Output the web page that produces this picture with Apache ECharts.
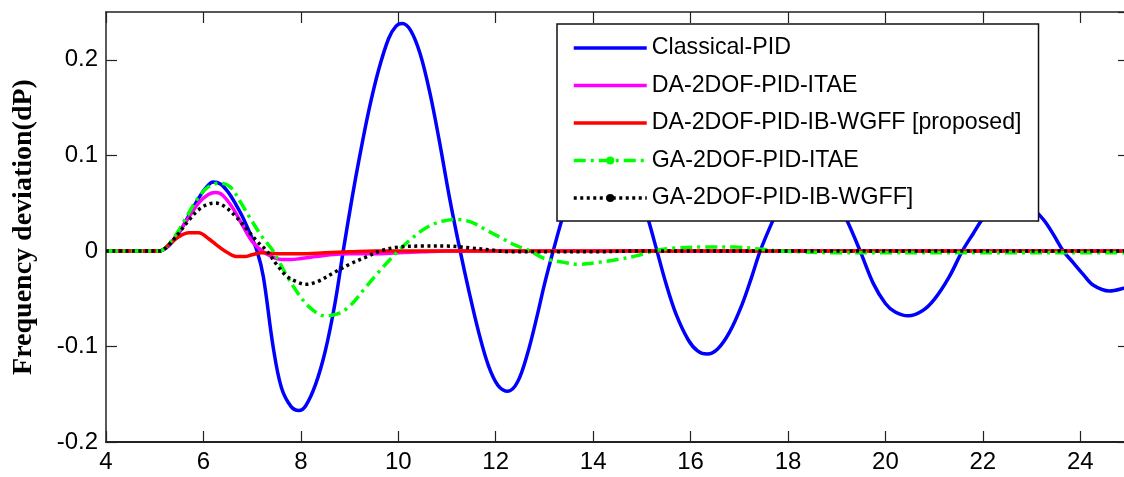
<!DOCTYPE html>
<html>
<head>
<meta charset="utf-8">
<script src="https://cdn.jsdelivr.net/npm/echarts@6/dist/echarts.min.js"></script>
<style>
  html, body { margin: 0; padding: 0; background: #fff; }
  #chart { width: 1124px; height: 477px; }
</style>
</head>
<body>
<div id="chart"></div>
<script>
// Frequency deviation responses, [time, dP]
const classicalPID = [
  [4, 0], [5.1, 0], [5.3, 0.006], [5.5, 0.019], [5.7, 0.037], [5.9, 0.055], [6.05, 0.066],
  [6.2, 0.072], [6.35, 0.070], [6.5, 0.062], [6.65, 0.050], [6.8, 0.036], [6.95, 0.019],
  [7.1, 0], [7.23, -0.027], [7.43, -0.100], [7.6, -0.143], [7.8, -0.163], [7.96, -0.167],
  [8.1, -0.162], [8.3, -0.140], [8.5, -0.105], [8.7, -0.055], [8.87, 0], [9.05, 0.055],
  [9.2, 0.097], [9.4, 0.148], [9.6, 0.190], [9.8, 0.222], [9.95, 0.235], [10.08, 0.238],
  [10.25, 0.231], [10.45, 0.206], [10.65, 0.165], [10.85, 0.113], [11.05, 0.056], [11.27, 0],
  [11.45, -0.042], [11.65, -0.085], [11.85, -0.120], [12.05, -0.141], [12.25, -0.147],
  [12.45, -0.137], [12.65, -0.108], [12.85, -0.068], [13.0, -0.035], [13.18, 0],
  [13.37, 0.035], [13.6, 0.075], [13.85, 0.105], [14.05, 0.117], [14.25, 0.120], [14.45, 0.116],
  [14.7, 0.097], [14.95, 0.063], [15.13, 0.033], [15.31, 0], [15.5, -0.035], [15.7, -0.066],
  [15.95, -0.093], [16.15, -0.105], [16.34, -0.108], [16.55, -0.103], [16.8, -0.085],
  [17.05, -0.057], [17.25, -0.028], [17.43, 0], [17.7, 0.033], [17.95, 0.060], [18.2, 0.076],
  [18.45, 0.080], [18.7, 0.075], [18.95, 0.058], [19.2, 0.033], [19.48, 0], [19.75, -0.034],
  [20.0, -0.055], [20.2, -0.064], [20.47, -0.068], [20.75, -0.063], [21.0, -0.051],
  [21.3, -0.028], [21.58, 0], [21.8, 0.018], [21.99, 0.033], [22.3, 0.050], [22.6, 0.056],
  [22.9, 0.050], [23.24, 0.033], [23.45, 0.017], [23.65, 0], [23.85, -0.012], [24.05, -0.024],
  [24.27, -0.036], [24.6, -0.042], [24.9, -0.039], [25, -0.037]
];

const da2dofItae = [
  [4, 0], [5.1, 0], [5.3, 0.007], [5.5, 0.020], [5.7, 0.035], [5.9, 0.050], [6.1, 0.059],
  [6.25, 0.061], [6.4, 0.058], [6.6, 0.045], [6.8, 0.027], [7.0, 0.010], [7.2, 0.000],
  [7.4, -0.006], [7.6, -0.009], [7.8, -0.009], [8.0, -0.008], [8.3, -0.006], [8.6, -0.004],
  [9.0, -0.003], [9.5, -0.003], [10.0, -0.002], [10.5, -0.001], [11.0, 0], [25, 0]
];

const da2dofIbWgff = [
  [4, 0], [5.1, 0], [5.3, 0.007], [5.5, 0.015], [5.7, 0.019], [5.9, 0.019], [6.1, 0.013],
  [6.3, 0.005], [6.5, -0.002], [6.7, -0.006], [6.85, -0.006], [7.0, -0.004], [7.2, -0.002],
  [7.5, -0.003], [8.0, -0.003], [8.5, -0.002], [9.0, -0.001], [9.5, 0], [25, 0]
];

const ga2dofItae = [
  [4, 0], [5.1, 0], [5.3, 0.008], [5.5, 0.022], [5.7, 0.040], [5.9, 0.056], [6.1, 0.067],
  [6.35, 0.071], [6.55, 0.067], [6.75, 0.052], [6.95, 0.035], [7.2, 0.015], [7.43, 0],
  [7.7, -0.025], [7.95, -0.045], [8.2, -0.060], [8.5, -0.068], [8.75, -0.066], [9.0, -0.058],
  [9.3, -0.040], [9.6, -0.022], [10.0, 0], [10.3, 0.014], [10.6, 0.025], [10.9, 0.031],
  [11.2, 0.033], [11.5, 0.030], [11.8, 0.022], [12.1, 0.014], [12.4, 0.006], [12.7, 0],
  [13.0, -0.008], [13.4, -0.012], [13.7, -0.014], [14.1, -0.012], [14.5, -0.009], [14.9, -0.005],
  [15.25, 0], [15.7, 0.003], [16.3, 0.004], [16.9, 0.004], [17.4, 0.002], [17.8, 0],
  [18.3, -0.001], [19.0, -0.002], [20.0, -0.002], [22.0, -0.002], [25, -0.002]
];

const ga2dofIbWgff = [
  [4, 0], [5.1, 0], [5.3, 0.007], [5.5, 0.019], [5.7, 0.032], [5.9, 0.043], [6.1, 0.049],
  [6.25, 0.050], [6.45, 0.046], [6.7, 0.034], [6.9, 0.022], [7.1, 0.010], [7.3, 0],
  [7.5, -0.014], [7.7, -0.026], [7.9, -0.032], [8.1, -0.035], [8.35, -0.032], [8.67, -0.023],
  [9.0, -0.014], [9.36, -0.006], [9.63, 0], [10.0, 0.004], [10.5, 0.005], [11.0, 0.005],
  [11.5, 0.003], [11.9, 0.001], [12.3, -0.001], [14.0, -0.001], [15.0, 0], [25, 0]
];

const seriesNames = [
  'Classical-PID',
  'DA-2DOF-PID-ITAE',
  'DA-2DOF-PID-IB-WGFF [proposed]',
  'GA-2DOF-PID-ITAE',
  'GA-2DOF-PID-IB-WGFF]'
];

const xTicks = [4, 6, 8, 10, 12, 14, 16, 18, 20, 22, 24];
const yTickLabels = { '-0.2': '-0.2', '-0.1': '-0.1', '0': '0', '0.1': '0.1', '0.2': '0.2' };

const axisColor = '#222';
const labelFont = 'Liberation Sans, Arial, sans-serif';

const chart = echarts.init(document.getElementById('chart'), null, { renderer: 'canvas' });

function lineSeries(name, data, color, type, withDot) {
  return {
    name: name,
    type: 'line',
    data: data,
    smooth: 0.35,
    symbol: withDot ? 'circle' : 'none',
    showSymbol: false,
    lineStyle: { color: color, width: 3.5, type: type, cap: 'butt' },
    itemStyle: { color: color },
    emphasis: { disabled: true },
    animation: false
  };
}

const option = {
  backgroundColor: '#fff',
  animation: false,
  grid: { left: 106, width: 1023, top: 12, height: 430, containLabel: false, outerBoundsMode: 'none' },
  legend: {
    orient: 'vertical',
    left: 557,
    top: 24,
    padding: [10, 17, 9, 15],
    itemWidth: 73,
    itemHeight: 10,
    itemGap: 9.5,
    backgroundColor: '#fff',
    borderColor: '#111',
    borderWidth: 1.5,
    borderRadius: 0,
    selectedMode: false,
    lineStyle: { width: 3.5 },
    textStyle: { fontFamily: labelFont, fontSize: 23.2, color: '#000', lineHeight: 28 },
    data: [
      { name: seriesNames[0], itemStyle: { opacity: 0 } },
      { name: seriesNames[1], itemStyle: { opacity: 0 } },
      { name: seriesNames[2], itemStyle: { opacity: 0 } },
      { name: seriesNames[3] },
      { name: seriesNames[4] }
    ]
  },
  xAxis: [
    {
      type: 'value', min: 4, max: 25, interval: 2, position: 'bottom',
      axisLine: { show: true, onZero: false, lineStyle: { color: axisColor, width: 2 } },
      axisTick: { show: true, inside: true, length: 11, lineStyle: { color: axisColor, width: 1.2 } },
      axisLabel: {
        show: true, margin: 8, color: '#000', fontFamily: labelFont, fontSize: 24,
        showMaxLabel: false,
        formatter: v => (xTicks.indexOf(v) >= 0 ? String(v) : '')
      },
      splitLine: { show: false }
    },
    {
      type: 'value', min: 4, max: 25, interval: 2, position: 'top',
      axisLine: { show: true, onZero: false, lineStyle: { color: axisColor, width: 1.5 } },
      axisTick: { show: true, inside: true, length: 11, lineStyle: { color: axisColor, width: 1.2 } },
      axisLabel: { show: false },
      splitLine: { show: false }
    }
  ],
  yAxis: [
    {
      type: 'value', min: -0.2, max: 0.25, interval: 0.1, position: 'left',
      name: 'Frequency deviation(dP)',
      nameLocation: 'middle',
      nameGap: 68,
      nameTextStyle: { fontFamily: 'Liberation Serif, Times New Roman, serif', fontWeight: 'bold', fontSize: 28, color: '#000' },
      axisLine: { show: true, onZero: false, lineStyle: { color: axisColor, width: 1.5 } },
      axisTick: { show: true, inside: true, length: 11, lineStyle: { color: axisColor, width: 1.2 } },
      axisLabel: {
        show: true, margin: 8, color: '#000', fontFamily: labelFont, fontSize: 24,
        showMaxLabel: false,
        formatter: v => {
          const k = String(Math.round(v * 10) / 10);
          return yTickLabels[k] !== undefined && Math.abs(v * 10 - Math.round(v * 10)) < 1e-6 ? yTickLabels[k] : '';
        }
      },
      splitLine: { show: false }
    },
    {
      type: 'value', min: -0.2, max: 0.25, interval: 0.1, position: 'right',
      axisLine: { show: true, onZero: false, lineStyle: { color: axisColor, width: 1.5 } },
      axisTick: { show: true, inside: true, length: 11, lineStyle: { color: axisColor, width: 1.2 } },
      axisLabel: { show: false },
      splitLine: { show: false }
    }
  ],
  series: [
    lineSeries(seriesNames[0], classicalPID, '#0000ff', 'solid', false),
    lineSeries(seriesNames[1], da2dofItae, '#ff00ff', 'solid', false),
    lineSeries(seriesNames[2], da2dofIbWgff, '#ff0000', 'solid', false),
    lineSeries(seriesNames[3], ga2dofItae, '#00ff00', [12, 5, 3, 5], true),
    lineSeries(seriesNames[4], ga2dofIbWgff, '#000000', [3, 3.5], true)
  ]
};

chart.setOption(option);
</script>
</body>
</html>
